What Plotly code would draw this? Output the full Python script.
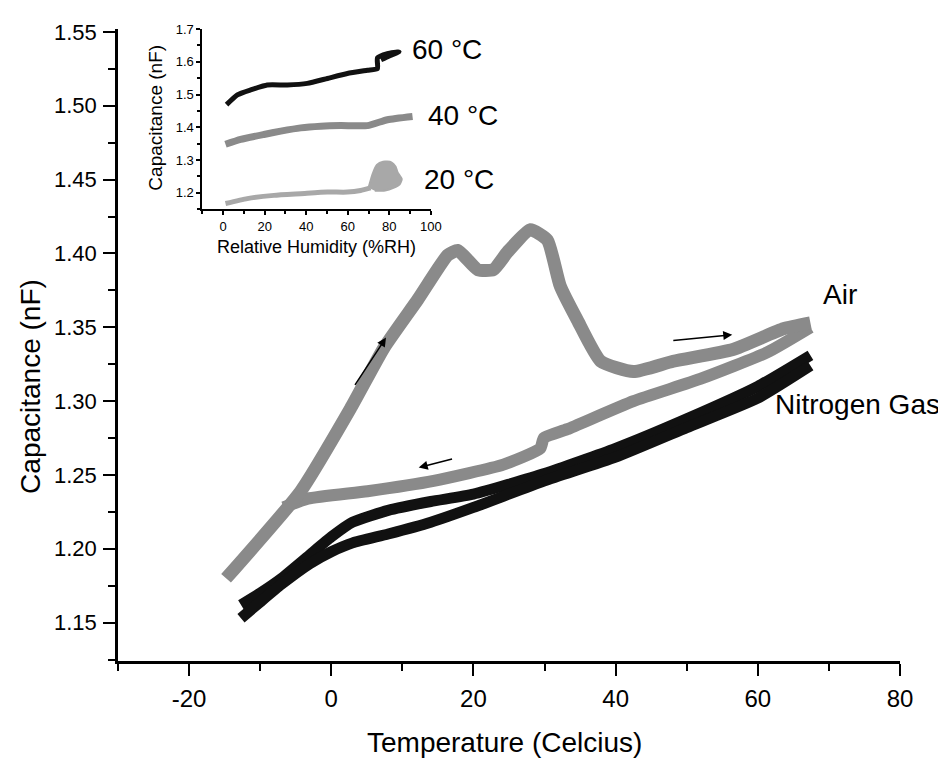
import plotly.graph_objects as go

# ---- main chart data (Temperature in Celsius, Capacitance in nF) ----
air_heat_T = [-14.8, -4.3, 2.7, 7.4, 12.2, 16.4, 17.8, 20.6, 22.8, 24.8, 28.0, 30.4, 32.2, 34.6, 37.9, 42.5, 48.1, 56.5, 63.6, 67.4]
air_heat_C = [1.180, 1.239, 1.295, 1.336, 1.369, 1.399, 1.402, 1.389, 1.389, 1.401, 1.416, 1.409, 1.378, 1.355, 1.327, 1.320, 1.327, 1.335, 1.349, 1.353]

air_cool_T = [67.4, 61.3, 51.9, 42.5, 33.2, 29.9, 29.4, 24.2, 14.4, 5.1, -3.3, -6.7]
air_cool_C = [1.350, 1.333, 1.315, 1.300, 1.281, 1.275, 1.268, 1.257, 1.246, 1.239, 1.234, 1.228]

n2_heat_T = [-12.7, -10, -7, -3, 0, 3, 8, 14, 20, 30, 40, 50, 60, 67.4]
n2_heat_C = [1.162, 1.170, 1.180, 1.196, 1.208, 1.218, 1.226, 1.232, 1.237, 1.251, 1.268, 1.288, 1.310, 1.331]

n2_cool_T = [67.4, 60, 50, 40, 30, 20, 14, 8, 3, 0, -3, -7, -10, -12.7]
n2_cool_C = [1.324, 1.302, 1.282, 1.262, 1.246, 1.228, 1.218, 1.210, 1.204, 1.198, 1.190, 1.176, 1.164, 1.153]

# ---- inset data (Relative humidity %RH, Capacitance nF) ----
rh60 = [1.6, 6.8, 13.2, 21.2, 30.9, 40.5, 50.2, 59.8, 69.5, 74.3, 74.3, 79.1, 84.7, 80.0, 76.0]
c60 = [1.469, 1.499, 1.514, 1.529, 1.529, 1.534, 1.549, 1.564, 1.574, 1.579, 1.612, 1.625, 1.630, 1.618, 1.606]

rh40 = [1.1, 8.4, 19.6, 27.7, 37.3, 47.0, 56.6, 69.5, 79.1, 91.2]
c40 = [1.348, 1.363, 1.378, 1.388, 1.398, 1.403, 1.405, 1.405, 1.423, 1.433]

rh20 = [1.1, 11.6, 24.4, 37.3, 50.2, 59.8, 66.2, 71.0]
c20 = [1.167, 1.182, 1.192, 1.197, 1.202, 1.202, 1.207, 1.215]

# noisy high-humidity cluster of the 20 °C run (outline of the scatter cloud)
rh20_cloud = [70.0, 72.0, 74.0, 77.0, 81.0, 83.0, 84.0, 86.0, 85.0, 82.0, 78.0, 73.0]
c20_cloud = [1.215, 1.258, 1.285, 1.295, 1.293, 1.280, 1.262, 1.242, 1.226, 1.215, 1.207, 1.206]

main_xticks = [-20, 0, 20, 40, 60, 80]
main_xtick_text = ["-20", "0", "20", "40", "60", "80"]
main_yticks = [1.15, 1.20, 1.25, 1.30, 1.35, 1.40, 1.45, 1.50, 1.55]
inset_xticks = [0, 20, 40, 60, 80, 100]
inset_yticks = [1.2, 1.3, 1.4, 1.5, 1.6, 1.7]

FONT = "Liberation Sans, Arial, sans-serif"
GREY = "#8a8a8a"
BLACK = "#111111"

fig = go.Figure()

def add_line(x, y, color, width, xa="x", ya="y", smooth=0.5):
    fig.add_trace(go.Scatter(x=x, y=y, mode="lines", xaxis=xa, yaxis=ya,
                             line=dict(color=color, width=width, shape="spline", smoothing=smooth),
                             showlegend=False, hoverinfo="skip"))

add_line(n2_heat_T, n2_heat_C, BLACK, 11)
add_line(n2_cool_T, n2_cool_C, BLACK, 11)
add_line(air_cool_T, air_cool_C, GREY, 12)
add_line(air_heat_T, air_heat_C, GREY, 13)

add_line(rh20, c20, "#a8a8a8", 5, "x2", "y2")
fig.add_trace(go.Scatter(x=rh20_cloud, y=c20_cloud, mode="lines", xaxis="x2", yaxis="y2",
                         fill="toself", fillcolor="#a8a8a8",
                         line=dict(color="#a8a8a8", width=2, shape="spline", smoothing=0.6),
                         showlegend=False, hoverinfo="skip"))
add_line(rh40, c40, "#8a8a8a", 7, "x2", "y2")
add_line(rh60, c60, "#111111", 5, "x2", "y2")

axis_common = dict(showline=True, linecolor="black", ticks="outside", tickcolor="black",
                   showgrid=False, zeroline=False, mirror=False)

fig.update_layout(
    width=946, height=762,
    paper_bgcolor="white", plot_bgcolor="white",
    margin=dict(l=110, r=54, t=18, b=109),
    font=dict(family=FONT, color="black"),
    xaxis=dict(range=[-30, 80], domain=[0, 1], tickvals=main_xticks, ticktext=main_xtick_text,
               ticklen=12, tickwidth=2, linewidth=2.5, tickfont=dict(size=24), ticklabelstandoff=2,
               minor=dict(dtick=10, tick0=0, ticklen=7, tickwidth=2, ticks="outside", tickcolor="black"),
               **axis_common),
    yaxis=dict(range=[1.124, 1.552], domain=[0, 1], tickvals=main_yticks, tickformat=".2f",
               ticklen=12, tickwidth=2, linewidth=2.5, tickfont=dict(size=22), ticklabelstandoff=2,
               minor=dict(dtick=0.025, tick0=1.125, ticklen=7, tickwidth=2, ticks="outside", tickcolor="black"),
               **axis_common),
    xaxis2=dict(range=[-10, 100], domain=[0.108, 0.400], anchor="y2", tickvals=inset_xticks,
                ticklen=4, tickwidth=1.5, linewidth=2, tickfont=dict(size=13),
                minor=dict(dtick=10, tick0=0, ticklen=3, ticks="outside", tickcolor="black"),
                **axis_common),
    yaxis2=dict(range=[1.15, 1.7], domain=[0.715, 1.0], anchor="x2", tickvals=inset_yticks,
                tickformat=".1f", ticklen=4, tickwidth=1.5, linewidth=2, tickfont=dict(size=13),
                minor=dict(dtick=0.05, tick0=1.15, ticklen=3, ticks="outside", tickcolor="black"),
                **axis_common),
)

ann = []
# axis titles of main plot
ann.append(dict(text="Capacitance (nF)", xref="paper", yref="paper", x=-0.111, y=0.434,
                xanchor="center", yanchor="middle", textangle=-90, showarrow=False, font=dict(size=28)))
ann.append(dict(text="Temperature (Celcius)", xref="paper", yref="paper", x=0.494, y=-0.129,
                xanchor="center", yanchor="middle", showarrow=False, font=dict(size=28)))
# inset axis titles
ann.append(dict(text="Capacitance (nF)", xref="paper", yref="paper", x=0.0485, y=0.8596,
                xanchor="center", yanchor="middle", textangle=-90, showarrow=False, font=dict(size=19)))
ann.append(dict(text="Relative Humidity (%RH)", xref="paper", yref="paper", x=0.254, y=0.6546,
                xanchor="center", yanchor="middle", showarrow=False, font=dict(size=18)))
# curve labels
ann.append(dict(text="Air", x=71.6, y=1.372, xref="x", yref="y", showarrow=False, font=dict(size=28)))
ann.append(dict(text="Nitrogen Gas", x=74.0, y=1.2975, xref="x", yref="y", showarrow=False, font=dict(size=28)))
# inset labels
ann.append(dict(text="60 °C", x=0.421, y=0.967, xref="paper", yref="paper", showarrow=False,
                font=dict(size=28), xanchor="center", yanchor="middle"))
ann.append(dict(text="40 °C", x=0.441, y=0.863, xref="paper", yref="paper", showarrow=False,
                font=dict(size=28), xanchor="center", yanchor="middle"))
ann.append(dict(text="20 °C", x=0.4355, y=0.762, xref="paper", yref="paper", showarrow=False,
                font=dict(size=28), xanchor="center", yanchor="middle"))
# direction arrows
for (x0, y0, x1, y1) in [(3.2, 1.310, 7.7, 1.343), (17.2, 1.261, 12.3, 1.255), (47.9, 1.341, 56.4, 1.345)]:
    ann.append(dict(x=x1, y=y1, ax=x0, ay=y0, xref="x", yref="y", axref="x", ayref="y",
                    showarrow=True, arrowhead=2, arrowsize=1.2, arrowwidth=1.5, arrowcolor="black", text=""))
fig.update_layout(annotations=ann)

fig.write_html("out.html")
